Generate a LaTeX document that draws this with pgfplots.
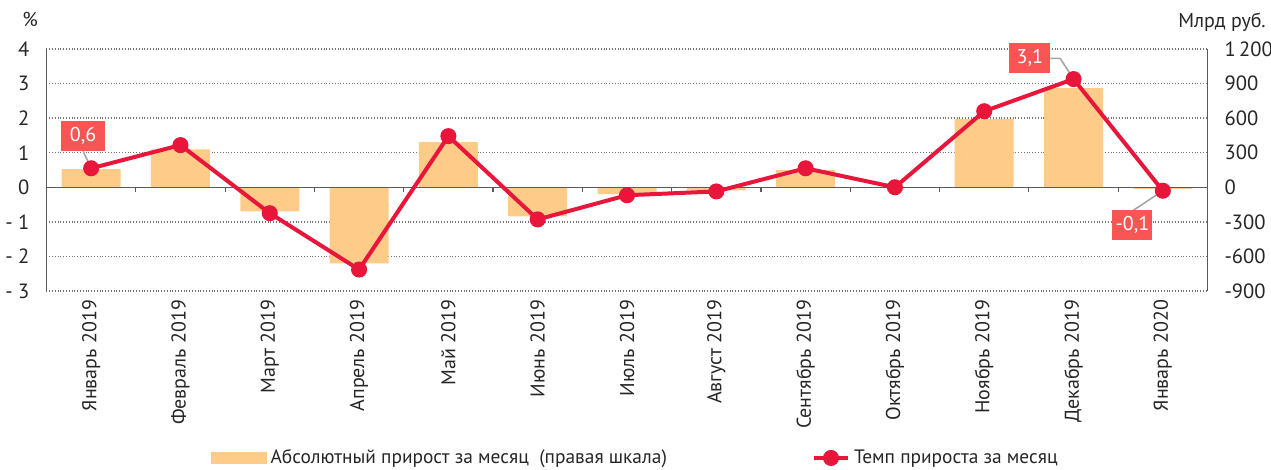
\documentclass[border=0pt]{standalone}
\usepackage{pgfplots}
\pgfplotsset{compat=1.18}
\usepackage{fontspec}
\setmainfont{PT Sans}
\definecolor{barc}{RGB}{254,203,137}
\definecolor{linec}{RGB}{232,22,58}
\definecolor{boxc}{RGB}{250,85,85}
\definecolor{axc}{RGB}{90,90,90}
\begin{document}
\begin{tikzpicture}[font=\fontsize{10}{12}\selectfont]
\path[use as bounding box] (-23.25pt,-89.5pt) rectangle (612.25pt,145.5pt);
% right axis: bars
\begin{axis}[
  at={(0pt,0pt)}, anchor=south west, scale only axis,
  width=580.5pt, height=121pt,
  xmin=-0.5, xmax=12.5, ymin=-900, ymax=1200,
  axis y line*=right, axis x line=none,
  y axis line style={draw=axc, line width=0.6pt},
  ytick={-900,-600,-300,0,300,600,900,1200},
  yticklabels={-900,-600,-300,0,300,600,900,1\,200},
  yticklabel style={anchor=west, xshift=5pt, text=black!85, font=\fontsize{10.3}{12}\selectfont},
  major tick length=0pt,
  ymajorgrids, grid style={densely dotted, black!55, line width=0.7pt},
]
\addplot[ybar, bar width=29.5pt, fill=barc, draw=none] coordinates {
 (0,157) (1,330) (2,-209) (3,-661) (4,391) (5,-252) (6,-60) (7,-26)
 (8,148) (9,-5) (10,591) (11,861) (12,-17)};
\end{axis}
% left axis: line
\begin{axis}[
  at={(0pt,0pt)}, anchor=south west, scale only axis,
  width=580.5pt, height=121pt,
  xmin=-0.5, xmax=12.5, ymin=-3, ymax=4,
  axis y line*=left, axis x line*=bottom,
  x axis line style={draw=none},
  y axis line style={draw=axc, line width=0.6pt},
  ytick={-3,-2,-1,0,1,2,3,4},
  yticklabels={- 3,- 2,- 1,0,1,2,3,4},
  yticklabel style={anchor=east, xshift=-5pt, text=black!85, font=\fontsize{10.3}{12}\selectfont},
  xtick={0,1,2,3,4,5,6,7,8,9,10,11,12},
  xticklabels={Январь 2019,Февраль 2019,Март 2019,Апрель 2019,Май 2019,Июнь 2019,Июль 2019,Август 2019,Сентябрь 2019,Октябрь 2019,Ноябрь 2019,Декабрь 2019,Январь 2020},
  xticklabel style={rotate=90, anchor=east, xshift=-1pt, text=black!85},
  major tick length=0pt,
  clip=false,
  legend style={at={(0.508,-0.69)}, anchor=center, draw=none, fill=none,
    legend columns=2, /tikz/every even column/.append style={column sep=70.5pt},
    cells={anchor=west}, text=black!85, font=\fontsize{9.7}{12}\selectfont},
]
\addlegendimage{legend image code/.code={\fill[barc] (0pt,-2.75pt) rectangle (27.5pt,2.75pt);}}
\addlegendentry{Абсолютный прирост за месяц\ \ (правая шкала)}
% zero line and ticks
\draw[axc, line width=0.6pt] (axis cs:-0.5,0) -- (axis cs:12.5,0);
\pgfplotsinvokeforeach{0.5,1.5,2.5,3.5,4.5,5.5,6.5,7.5,8.5,9.5,10.5,11.5}{
  \draw[axc, line width=0.6pt] (axis cs:#1,0) -- ++(0pt,-2.5pt);
}
% connectors
\draw[black!35, line width=0.8pt] (axis cs:-0.09,1.04) -- (axis cs:0,0.55);
\draw[black!35, line width=0.8pt] (axis cs:10.74,3.73) -- (axis cs:10.85,3.73) -- (axis cs:11,3.13);
\draw[black!35, line width=0.8pt] (axis cs:11.67,-0.665) -- (axis cs:12,-0.1);
\addplot[linec, line width=2pt, mark=*, mark size=3pt, mark options={fill=linec, draw=linec}] coordinates {
 (0,0.55) (1,1.22) (2,-0.75) (3,-2.38) (4,1.48) (5,-0.93) (6,-0.23) (7,-0.12)
 (8,0.55) (9,0.0) (10,2.2) (11,3.13) (12,-0.1)};
\addlegendentry{Темп прироста за месяц}
% value boxes
\node[fill=boxc, text=white, minimum width=22pt, minimum height=15pt, inner sep=0pt] at (axis cs:-0.09,1.475) {0,6};
\node[fill=boxc, text=white, minimum width=20.5pt, minimum height=15pt, inner sep=0pt] at (axis cs:10.51,3.73) {3,1};
\node[fill=boxc, text=white, minimum width=20pt, minimum height=15pt, inner sep=0pt] at (axis cs:11.66,-1.10) {-0,1};
% units
\node[text=black!85] at (rel axis cs:-0.0142,1.12) {\%};
\node[text=black!85] at (rel axis cs:1.0125,1.112) {Млрд руб.};
\end{axis}
\end{tikzpicture}
\end{document}
